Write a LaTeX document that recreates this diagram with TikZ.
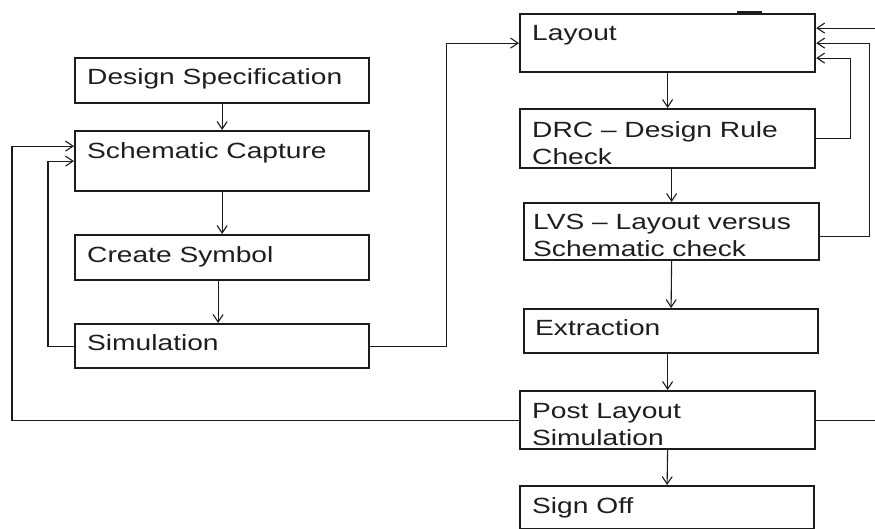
\documentclass[tikz,border=0pt]{standalone}
\usepackage{fontspec}
\setmainfont[FakeStretch=1.28]{Liberation Sans}
\usetikzlibrary{arrows.meta}

\definecolor{ink}{HTML}{1C1C1C}
\definecolor{txt}{HTML}{1E1E1E}

\tikzset{
  stepbox/.style={draw=ink, line width=2.2pt, fill=white, inner sep=0pt,
                  anchor=north west},
  label text/.style={anchor=base west, inner sep=0pt, text=txt,
                     font=\fontsize{22}{26}\selectfont},
  flow/.style={draw=ink, line width=1.1pt,
               -{Straight Barb[length=7.5pt,width=10pt,line width=1.1pt]}},
}

% box helper: name, left, top, width, height
\newcommand{\flowbox}[5]{%
  \node[stepbox, minimum width=#4pt, minimum height=#5pt] (#1) at (#2,#3) {};}

\begin{document}
\begin{tikzpicture}[x=1pt, y=-1pt]
  \useasboundingbox (0,0) rectangle (875,529);
  \clip (0,0) rectangle (875,529);

  % ---- left column ----
  \flowbox{spec}{74}{57}{294}{45}
  \flowbox{capt}{74}{130}{294}{60}
  \flowbox{symb}{74}{234}{294}{45}
  \flowbox{simu}{74}{323}{294}{44}

  % ---- right column ----
  \flowbox{lay}{519}{13}{295}{58}
  \flowbox{drc}{519}{108}{295}{59}
  \flowbox{lvs}{523}{202}{295}{57}
  \flowbox{ext}{523}{308}{294}{44}
  \flowbox{post}{519}{390}{295}{58}
  \flowbox{sign}{519}{485}{294}{43}

  % thicker patch on the top edge of the layout box
  \draw[ink, line width=3.2pt] (737,12.5) -- (762,12.5);

  % ---- labels ----
  \node[label text] at (87,85)  {Design Specification};
  \node[label text] at (87,159) {Schematic Capture};
  \node[label text] at (87,262) {Create Symbol};
  \node[label text] at (87,350) {Simulation};

  \node[label text] at (532,41)  {Layout};
  \node[label text] at (532,138) {DRC – Design Rule};
  \node[label text] at (532,165) {Check};
  \node[label text] at (533,230) {LVS – Layout versus};
  \node[label text] at (533,257) {Schematic check};
  \node[label text] at (535,335) {Extraction};
  \node[label text] at (532,418) {Post Layout};
  \node[label text] at (532,445) {Simulation};
  \node[label text] at (532,513) {Sign Off};

  % ---- straight flow ----
  \draw[flow] (spec.south) -- (capt.north);
  \draw[flow] (capt.south) -- (symb.north);
  \draw[flow] ([xshift=-4pt]symb.south) -- ([xshift=-4pt]simu.north);

  \draw[flow] (lay.south) -- (drc.north);
  \draw[flow] (drc.south -| lvs.north) -- (lvs.north);
  \draw[flow] (lvs.south) -- (ext.north);
  \draw[flow] (ext.south -| post.north) -- (post.north);
  \draw[flow] (post.south) -- (sign.north);

  % ---- simulation to layout ----
  \draw[flow] (simu.east) -- ++(76,0) |- (lay.west);

  % ---- feedback loops on the left ----
  \draw[flow] (simu.west) -- ++(-26,0) |- (capt.west);
  \draw[flow] (post.west) -- ++(-507,0) |- ([yshift=15pt]capt.west);

  % ---- feedback loops on the right ----
  \draw[flow] (drc.east) -- ++(34,0) |- ([yshift=-15pt]lay.east);
  \draw[flow] ([yshift=-4.5pt]lvs.east) -- ++(49,0) |- (lay.east);
  \draw[flow] (post.east) -- ++(80,0) |- ([yshift=15pt]lay.east);
\end{tikzpicture}
\end{document}
